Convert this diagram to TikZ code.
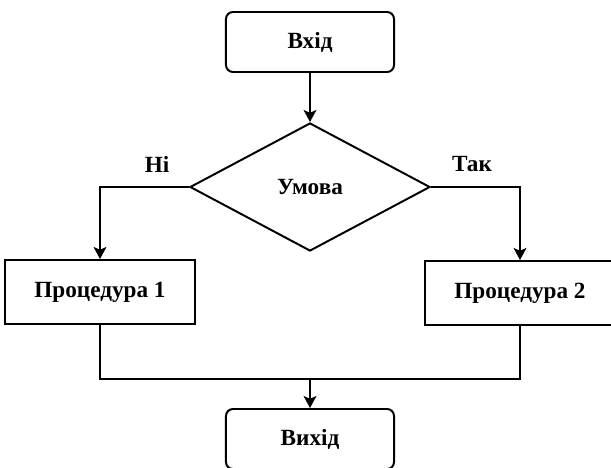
\documentclass[tikz,border=0pt]{standalone}
\usepackage{fontspec}
\setmainfont{Liberation Serif}
\usepackage{tikz}
\usetikzlibrary{arrows.meta, shapes.geometric}

\begin{document}
\begin{tikzpicture}[x=0.025cm,y=-0.025cm,>={Stealth[length=0.3cm,width=0.32cm,inset=0.07cm]},line width=1.4pt,
        every node/.style={font=\fontsize{16.5}{20}\selectfont\bfseries},
        term/.style={draw,rounded corners=5pt,minimum width=4.2cm,minimum height=1.5cm},
        proc/.style={draw,minimum width=4.75cm,minimum height=1.6cm},
        cond/.style={draw,diamond,inner sep=0pt,minimum width=6cm,minimum height=3.2cm}]

        \useasboundingbox (0,0) rectangle (611,467);

        \node [term] at (310,42) (input) {Вхід};
        \node [cond] at (310,187) (check) {Умова};

        \node [proc] at (100,292) (procLeft) {Процедура 1};
        \node [proc] at (520,293) (procRight) {Процедура 2};

        \node [term] at (310,439) (output) {Вихід};

        \node at (157,164) (no) {Ні};
        \node at (472,164) (yes) {Так};

        \coordinate (join) at (310,379);

        \draw[->] (input) -- (check);
        \draw[->] (check.west) -| (procLeft);
        \draw[->] (check.east) -| (procRight);
        \draw (procLeft.south) |- (join) -| (procRight.south);
        \draw[->] (join) -- (output);

      \end{tikzpicture}
\end{document}
